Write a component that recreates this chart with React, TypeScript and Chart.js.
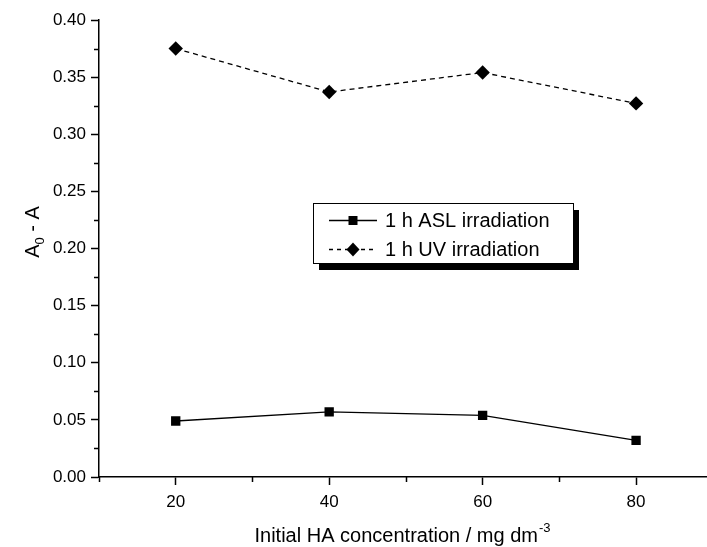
import React, { useEffect, useRef } from "react";
import { Chart, registerables } from "chart.js";

Chart.register(...registerables);

const concentrations = [20, 40, 60, 80];
const aslValues = [0.049, 0.057, 0.054, 0.032];
const uvValues = [0.375, 0.337, 0.354, 0.327];
const xMajorTicks = [20, 40, 60, 80];
const xMinorTicks = [10, 30, 50, 70];
const yMinorTicks = [0.025, 0.075, 0.125, 0.175, 0.225, 0.275, 0.325, 0.375];
const seriesLabels = ["1 h ASL irradiation", "1 h UV irradiation"];

const FONT = "'Liberation Sans', Arial, sans-serif";

function drawMarker(ctx: CanvasRenderingContext2D, style: string, x: number, y: number) {
  ctx.save();
  ctx.fillStyle = "#000";
  ctx.beginPath();
  if (style === "rect") {
    ctx.rect(x - 4.5, y - 4.5, 9, 9);
  } else {
    ctx.moveTo(x, y - 7);
    ctx.lineTo(x + 6.5, y);
    ctx.lineTo(x, y + 7);
    ctx.lineTo(x - 6.5, y);
    ctx.closePath();
  }
  ctx.fill();
  ctx.restore();
}

const decorPlugin = {
  id: "decor",
  afterDraw(chart: any) {
    const ctx: CanvasRenderingContext2D = chart.ctx;
    const xs = chart.scales.x;
    const ys = chart.scales.y;
    const area = chart.chartArea;
    ctx.save();
    ctx.strokeStyle = "#000";
    ctx.lineWidth = 1.5;
    // minor ticks
    ctx.beginPath();
    for (const v of yMinorTicks) {
      const py = Math.round(ys.getPixelForValue(v)) + 0.5;
      ctx.moveTo(area.left - 5, py);
      ctx.lineTo(area.left, py);
    }
    for (const v of xMinorTicks) {
      const px = Math.round(xs.getPixelForValue(v)) + 0.5;
      ctx.moveTo(px, area.bottom);
      ctx.lineTo(px, area.bottom + 5);
    }
    ctx.stroke();

    // x title
    ctx.fillStyle = "#000";
    ctx.textBaseline = "alphabetic";
    const main = "Initial HA concentration / mg dm";
    const sup = "-3";
    ctx.font = `20px ${FONT}`;
    const wMain = ctx.measureText(main).width;
    ctx.font = `13px ${FONT}`;
    const wSup = ctx.measureText(sup).width;
    const cx = 402;
    const startX = cx - (wMain + wSup) / 2;
    ctx.font = `20px ${FONT}`;
    ctx.textAlign = "left";
    ctx.fillText(main, startX, 542);
    ctx.font = `13px ${FONT}`;
    ctx.fillText(sup, startX + wMain + 1, 532);

    // y title
    ctx.save();
    ctx.translate(39, 232);
    ctx.rotate(-Math.PI / 2);
    ctx.font = `20px ${FONT}`;
    const a = "A";
    const rest = " - A";
    const wa = ctx.measureText(a).width;
    const wr = ctx.measureText(rest).width;
    ctx.font = `13px ${FONT}`;
    const w0 = ctx.measureText("0").width;
    const total = wa + w0 + wr;
    let sx = -total / 2;
    ctx.font = `20px ${FONT}`;
    ctx.fillText(a, sx, 0);
    sx += wa;
    ctx.font = `13px ${FONT}`;
    ctx.fillText("0", sx, 5);
    sx += w0;
    ctx.font = `20px ${FONT}`;
    ctx.fillText(rest, sx, 0);
    ctx.restore();

    // legend
    const lx = 313, ly = 203, lw = 260, lh = 60;
    ctx.fillStyle = "#000";
    ctx.fillRect(lx + 6, ly + 7, lw, lh);
    ctx.fillStyle = "#fff";
    ctx.fillRect(lx, ly, lw, lh);
    ctx.lineWidth = 1;
    ctx.strokeStyle = "#000";
    ctx.strokeRect(lx + 0.5, ly + 0.5, lw, lh);
    const rows = [
      { y: 220, dash: [] as number[], marker: "rect", label: chart.data.datasets[0].label },
      { y: 249, dash: [4, 4], marker: "diamond", label: chart.data.datasets[1].label },
    ];
    for (const r of rows) {
      ctx.save();
      ctx.setLineDash(r.dash);
      ctx.lineWidth = 1.3;
      ctx.beginPath();
      ctx.moveTo(329, r.y + 0.5);
      ctx.lineTo(377, r.y + 0.5);
      ctx.stroke();
      ctx.restore();
      drawMarker(ctx, r.marker, 353, r.y + 0.5);
      ctx.fillStyle = "#000";
      ctx.font = `20px ${FONT}`;
      ctx.textAlign = "left";
      ctx.textBaseline = "middle";
      ctx.fillText(r.label, 385, r.y + 1);
    }
    ctx.restore();
  },
};

export default function App() {
  const ref = useRef<HTMLCanvasElement | null>(null);
  useEffect(() => {
    if (!ref.current) return;
    const chart = new Chart(ref.current, {
      type: "line",
      data: {
        datasets: [
          {
            label: seriesLabels[0],
            data: concentrations.map((c, i) => ({ x: c, y: aslValues[i] })),
            borderColor: "#000",
            borderWidth: 1.3,
            pointStyle: "rect",
            pointRadius: 6.6,
            pointBackgroundColor: "#000",
            pointBorderColor: "#000",
            pointBorderWidth: 0,
            tension: 0,
          },
          {
            label: seriesLabels[1],
            data: concentrations.map((c, i) => ({ x: c, y: uvValues[i] })),
            borderColor: "#000",
            borderWidth: 1.3,
            borderDash: [5, 4],
            pointStyle: "rectRot",
            pointRadius: 7.2,
            pointBackgroundColor: "#000",
            pointBorderColor: "#000",
            pointBorderWidth: 0,
            tension: 0,
          },
        ],
      },
      options: {
        responsive: false,
        animation: false,
        devicePixelRatio: 1,
        layout: { padding: { left: 0, top: 20, right: 7, bottom: 0 } },
        plugins: { legend: { display: false }, tooltip: { enabled: false } },
        scales: {
          x: {
            type: "linear",
            min: 10,
            max: 90,
            afterBuildTicks: (scale: any) => {
              scale.ticks = xMajorTicks.map((v) => ({ value: v }));
            },
            afterFit: (scale: any) => {
              scale.height = 70;
            },
            grid: {
              drawOnChartArea: false,
              drawTicks: true,
              tickLength: 8,
              tickColor: "#000",
              tickWidth: 1.5,
            },
            border: { display: true, color: "#000", width: 1.5 },
            ticks: {
              color: "#000",
              font: { family: FONT, size: 17 },
              padding: 7,
              maxRotation: 0,
            },
          },
          y: {
            type: "linear",
            min: 0,
            max: 0.4,
            afterFit: (scale: any) => {
              scale.width = 99;
            },
            grid: {
              drawOnChartArea: false,
              drawTicks: true,
              tickLength: 8,
              tickColor: "#000",
              tickWidth: 1.5,
            },
            border: { display: true, color: "#000", width: 1.5 },
            ticks: {
              color: "#000",
              stepSize: 0.05,
              font: { family: FONT, size: 17 },
              padding: 5,
              callback: (v: any) => Number(v).toFixed(2),
            },
          },
        },
      },
      plugins: [decorPlugin],
    });
    return () => chart.destroy();
  }, []);
  return (
    <div
      style={{
        position: "fixed",
        left: 0,
        top: 0,
        width: 707,
        height: 547,
        overflow: "hidden",
        background: "#fff",
      }}
    >
      <canvas ref={ref} width={720} height={547} style={{ width: 720, height: 547, display: "block" }} />
    </div>
  );
}
